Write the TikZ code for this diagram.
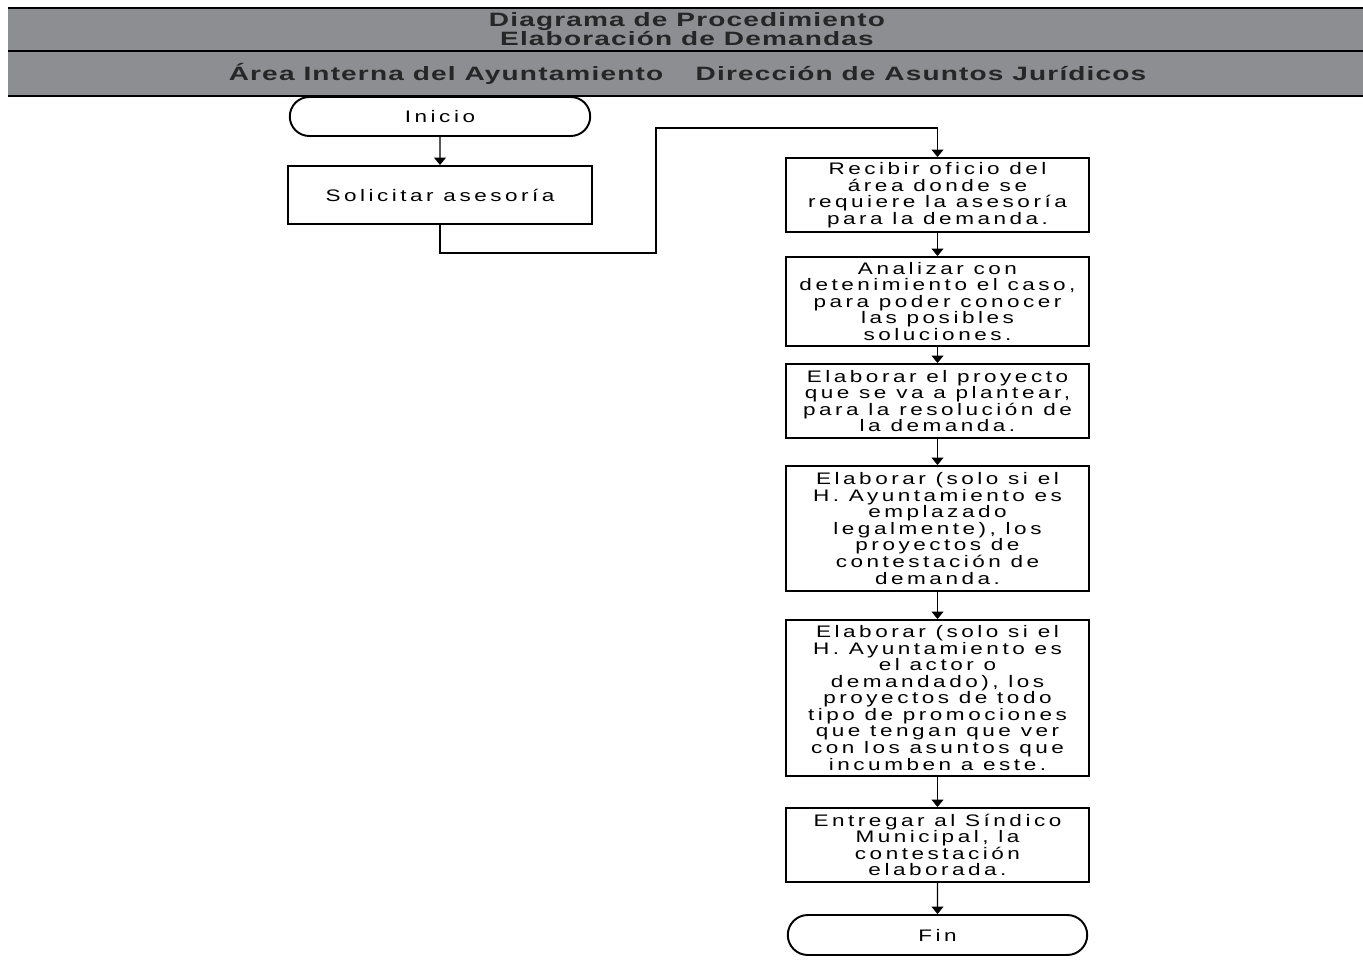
\documentclass[tikz,border=0pt]{standalone}
\usepackage{fontspec}
\setmainfont{Liberation Sans}
\newfontfamily\boxfont[LetterSpace=21,FakeStretch=1.35]{Liberation Sans}
\newfontfamily\headfont[LetterSpace=6,FakeStretch=1.45]{Liberation Sans}
\usepackage{xcolor}
\usepackage{tikz}
\usetikzlibrary{arrows.meta,positioning,shapes.misc}
\definecolor{headgray}{RGB}{141,142,146}
\tikzset{
  headtxt/.style={font=\fontsize{11}{10.8}\selectfont\headfont\bfseries, text=black!85, align=center, inner sep=0pt},
  flow/.style={draw, line width=0.6pt, -{Triangle[length=1.5mm, width=2.4mm]}}
}

\begin{document}
\begin{tikzpicture}[x=0.02cm, y=-0.02cm,
  actbox/.style={draw, line width=1.1pt, minimum width=6.06cm, inner sep=1pt, align=center, font=\fontsize{9.5}{9.4}\selectfont\boxfont},
  term/.style={draw, line width=1.1pt, rounded rectangle, minimum width=6.08cm, minimum height=0.78cm, inner sep=1pt, font=\fontsize{9.5}{9.4}\selectfont\boxfont}]
\useasboundingbox (0,0) rectangle (1363,962);
% encabezado
\fill[headgray] (8,8) rectangle (1363,96);
\draw[line width=0.8pt] (8,8) -- (1363,8) (8,51) -- (1363,51) (8,96) -- (1363,96);
\node[headtxt] (title) at (687,29.5) {Diagrama de Procedimiento\\Elaboración de Demandas};
\node[headtxt] (colA) at (446,74) {Área Interna del Ayuntamiento};
\node[headtxt] (colB) at (921,74) {Dirección de Asuntos Jurídicos};

% area interna
\node[term] (ini) at (440,116.5) {Inicio};
\node[actbox, minimum width=6.08cm, minimum height=1.16cm] (sol) at (440,195) {Solicitar asesoría};

% direccion juridica
\node[actbox, minimum height=1.48cm] (rec) at (937.5,195) {Recibir oficio del\\área donde se\\requiere la asesoría\\para la demanda.};
\node[actbox, minimum height=1.78cm] (ana) at (937.5,301.5) {Analizar con\\detenimiento el caso,\\para poder conocer\\las posibles\\soluciones.};
\node[actbox, minimum height=1.48cm] (pro) at (937.5,401) {Elaborar el proyecto\\que se va a plantear,\\para la resolución de\\la demanda.};
\node[actbox, minimum height=2.5cm] (emp) at (937.5,528.5) {Elaborar (solo si el\\H. Ayuntamiento es\\emplazado\\legalmente), los\\proyectos de\\contestación de\\demanda.};
\node[actbox, minimum height=3.12cm] (act) at (937.5,698) {Elaborar (solo si el\\H. Ayuntamiento es\\el actor o\\demandado), los\\proyectos de todo\\tipo de promociones\\que tengan que ver\\con los asuntos que\\incumben a este.};
\node[actbox, minimum height=1.48cm] (ent) at (937.5,845) {Entregar al Síndico\\Municipal, la\\contestación\\elaborada.};
\node[term, minimum width=6.06cm, minimum height=0.8cm] (fin) at (937.5,935) {Fin};

\coordinate (bendA) at (656,253);
\coordinate (bendB) at (937.5,128);
\draw[flow] (ini) -- (sol);
\draw[flow] (sol.south) |- (bendA) |- (bendB) -- (rec.north);
\draw[flow] (rec) -- (ana);
\draw[flow] (ana) -- (pro);
\draw[flow] (pro) -- (emp);
\draw[flow] (emp) -- (act);
\draw[flow] (act) -- (ent);
\draw[flow] (ent) -- (fin);
\end{tikzpicture}
\end{document}
